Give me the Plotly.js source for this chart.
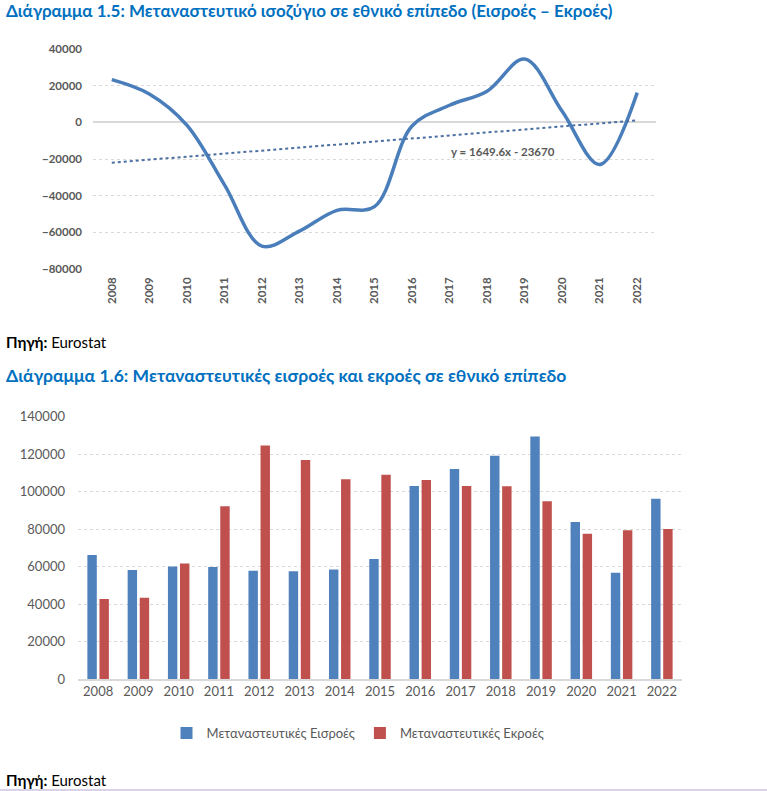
<!DOCTYPE html>
<html>
<head>
<meta charset="utf-8">
<script src="https://cdn.plot.ly/plotly-3.0.1.min.js"></script>
<style>
html,body{margin:0;padding:0;background:#fff;}
#chart{width:767px;height:791px;}
</style>
</head>
<body>
<div id="chart"></div>
<script>
// ---- Data ----
const years = ['2008','2009','2010','2011','2012','2013','2014','2015','2016','2017','2018','2019','2020','2021','2022'];
const balance = [23300, 15500, -1500, -34000, -67500, -59300, -48000, -46000, -2000, 9300, 17000, 34500, 6000, -23000, 16200];
const trendYears = ['2008','2022'];
const trendValues = [-22020, 1070];
const trendLabel = 'y = 1649.6x - 23670';
const inflows = [66300, 58300, 60200, 59900, 57900, 57600, 58600, 64100, 103000, 112100, 119200, 129500, 83900, 56800, 96300];
const outflows = [42800, 43500, 61800, 92200, 124700, 116900, 106600, 109100, 106200, 103000, 102900, 94900, 77600, 79400, 80100];
const seriesNames = ['Μεταναστευτικές Εισροές', 'Μεταναστευτικές Εκροές'];
const title1 = 'Διάγραμμα 1.5: Μεταναστευτικό ισοζύγιο σε εθνικό επίπεδο (Εισροές – Εκροές)';
const title2 = 'Διάγραμμα 1.6: Μεταναστευτικές εισροές και εκροές σε εθνικό επίπεδο';
const sourceText = '<b>Πηγή:</b> Eurostat';

const W = 767, H = 791;
const px = x => x / W;
const py = y => 1 - y / H;
const FONT = 'Lato, "Open Sans", sans-serif';
const BLUE = '#4F81BD', RED = '#C0504D', GRAY = '#595959';

const traces = [
  {x: years, y: balance, type: 'scatter', mode: 'lines', line: {color: '#4A7EBB', width: 3.5, shape: 'spline', smoothing: 1}, xaxis: 'x', yaxis: 'y', showlegend: false},
  {x: trendYears, y: trendValues, type: 'scatter', mode: 'lines', line: {color: '#4A6FA0', width: 2, dash: 'dot'}, xaxis: 'x', yaxis: 'y', showlegend: false},
  {x: years, y: inflows, type: 'bar', name: seriesNames[0], marker: {color: BLUE}, xaxis: 'x2', yaxis: 'y2'},
  {x: years, y: outflows, type: 'bar', name: seriesNames[1], marker: {color: RED}, xaxis: 'x2', yaxis: 'y2'}
];

const layout = {
  width: W, height: H,
  margin: {l: 0, r: 0, t: 0, b: 0},
  paper_bgcolor: '#fff', plot_bgcolor: '#fff',
  font: {family: FONT, color: GRAY},
  barmode: 'group', bargap: 0.40, bargroupgap: 0.22,
  xaxis: {
    domain: [px(93), px(656)], anchor: 'y', type: 'category', range: [-0.5, 14.5],
    tickangle: -90, tickfont: {size: 11.5, color: GRAY, family: FONT, weight: 'bold'},
    showgrid: false, showline: false, ticks: '', ticklabelstandoff: 5
  },
  yaxis: {
    domain: [py(269), py(49)], anchor: 'x', range: [-80000, 40000], dtick: 20000, tickformat: 'd',
    tickfont: {size: 11.5, color: GRAY, family: FONT, weight: 'bold'},
    showgrid: true, gridcolor: '#D9D9D9', griddash: 'dot', gridwidth: 1,
    zeroline: true, zerolinecolor: '#D9D9D9', zerolinewidth: 2,
    showline: false, ticks: '', ticklabelstandoff: 10
  },
  xaxis2: {
    domain: [px(78), px(682)], anchor: 'y2', type: 'category', range: [-0.5, 14.5],
    tickfont: {size: 13, color: GRAY, family: FONT},
    showgrid: false, showline: true, linecolor: '#D9D9D9', linewidth: 1.5, ticks: ''
  },
  yaxis2: {
    domain: [py(679.3), py(416.7)], anchor: 'x2', range: [0, 140000], dtick: 20000, tickformat: 'd',
    tickfont: {size: 13, color: GRAY, family: FONT},
    showgrid: true, gridcolor: '#D9D9D9', griddash: 'dot', gridwidth: 1,
    zeroline: false, showline: false, ticks: '', ticklabelstandoff: 12
  },
  showlegend: true,
  legend: {
    orientation: 'h', x: px(358), xanchor: 'center', y: py(733), yanchor: 'middle',
    font: {size: 13, color: GRAY, family: FONT}, traceorder: 'normal'
  },
  annotations: [
    {text: '<b>' + title1 + '</b>', xref: 'paper', yref: 'paper', x: px(4), y: py(11), xanchor: 'left', yanchor: 'middle', showarrow: false, font: {size: 17, color: '#0070C0', family: FONT}},
    {text: trendLabel, xref: 'paper', yref: 'paper', x: px(503), y: py(152), xanchor: 'center', yanchor: 'middle', showarrow: false, font: {size: 11.5, color: GRAY, family: FONT, weight: 'bold'}},
    {text: sourceText, xref: 'paper', yref: 'paper', x: px(4), y: py(342), xanchor: 'left', yanchor: 'middle', showarrow: false, font: {size: 15, color: '#000', family: FONT}},
    {text: '<b>' + title2 + '</b>', xref: 'paper', yref: 'paper', x: px(4), y: py(375), xanchor: 'left', yanchor: 'middle', showarrow: false, font: {size: 17.5, color: '#0070C0', family: FONT}},
    {text: sourceText, xref: 'paper', yref: 'paper', x: px(4), y: py(780), xanchor: 'left', yanchor: 'middle', showarrow: false, font: {size: 15, color: '#000', family: FONT}}
  ],
  shapes: [
    {type: 'line', xref: 'paper', yref: 'paper', x0: 0, x1: 1, y0: py(790), y1: py(790), line: {color: '#D9D2E9', width: 2}}
  ]
};

Plotly.newPlot('chart', traces, layout, {displayModeBar: false, staticPlot: true});
</script>
</body>
</html>
